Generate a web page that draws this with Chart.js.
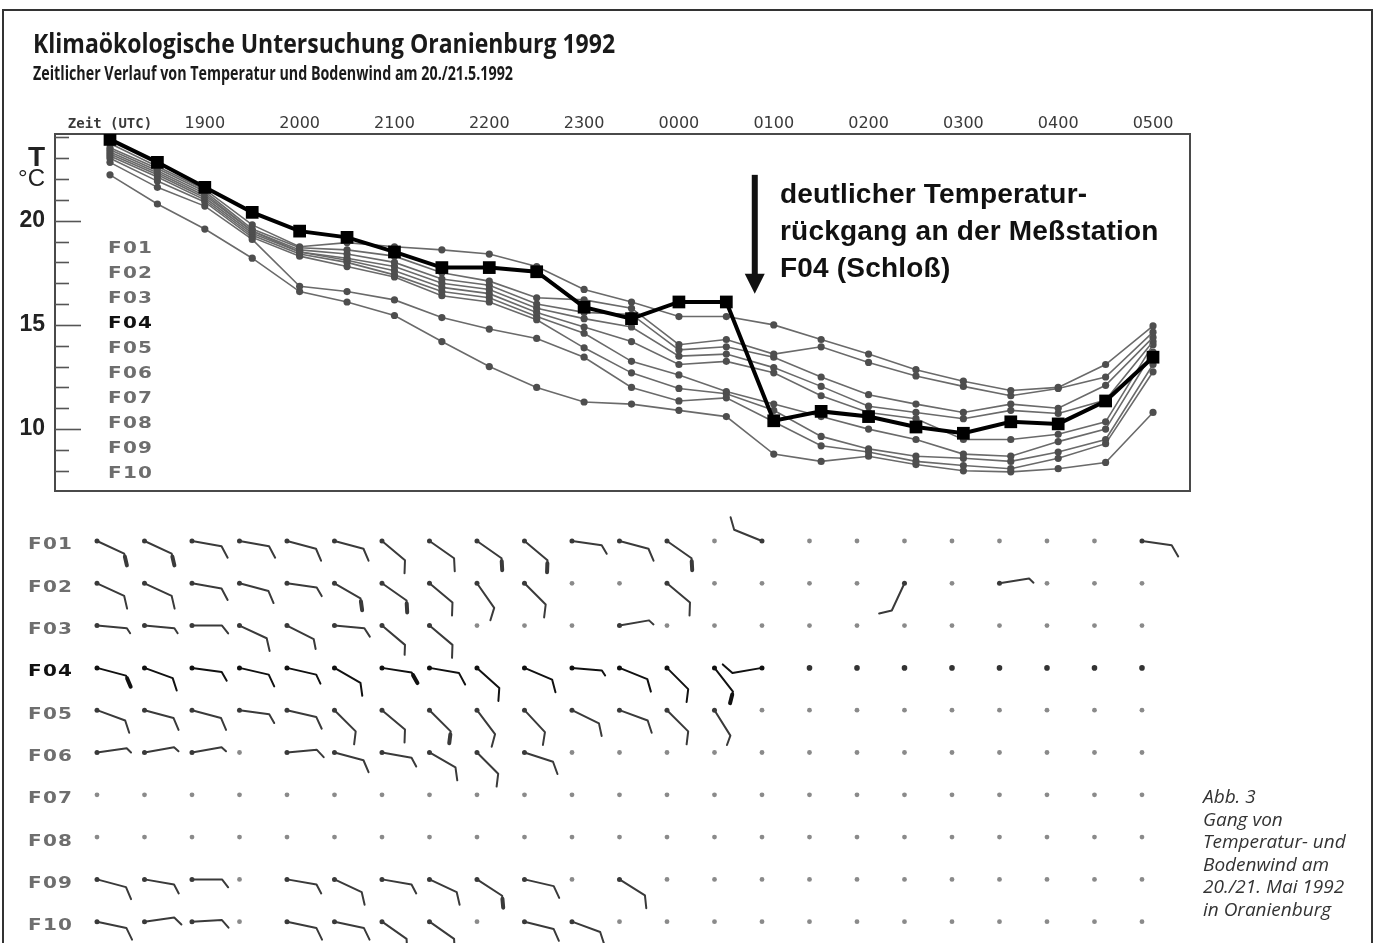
<!DOCTYPE html>
<html lang="de">
<head>
<meta charset="utf-8">
<title>Klimaökologische Untersuchung Oranienburg 1992</title>
<script src="https://cdn.jsdelivr.net/npm/chart.js@4.4.1/dist/chart.umd.min.js"></script>
<style>
  html, body { margin: 0; padding: 0; background: #fff; }
  body { width: 1380px; height: 943px; position: relative; overflow: hidden; font-family: 'Open Sans', sans-serif; color: #222; }
  #frame { position: absolute; left: 2px; top: 9px; width: 1371px; height: 1000px; border: 2px solid #333; box-sizing: border-box; }
  canvas { position: absolute; left: 0; top: 0; }
  .fit { position: absolute; white-space: nowrap; transform-origin: 0 0; color: #1a1a1a; }
  #title { left: 33px; top: 26px; font-size: 26px; font-weight: 700; line-height: 34px; }
  #subtitle { left: 33px; top: 60px; font-size: 20px; font-weight: 700; line-height: 26px; }
  #note { position: absolute; left: 780px; top: 175px; font: bold 28px/37px 'Liberation Sans', Arial, sans-serif; letter-spacing: 0.2px; color: #111; white-space: nowrap; }
  .stn { position: absolute; font: bold 16px/25px 'DejaVu Sans', sans-serif; letter-spacing: 1px; color: #6e6e6e; white-space: nowrap; transform: scaleX(1.25); transform-origin: 0 0; }
  .stn.dark { color: #111; }
  #legend { left: 108px; top: 235px; }
  #caption { position: absolute; left: 1203px; top: 785px; font: italic 19px/22.5px 'Open Sans', sans-serif; color: #333; white-space: nowrap; }
</style>
</head>
<body>
<div id="frame"></div>
<canvas id="tempChart" width="1380" height="943"></canvas>
<canvas id="windChart" width="1380" height="943"></canvas>
<div id="title" class="fit">Klimaökologische Untersuchung Oranienburg 1992</div>
<div id="subtitle" class="fit">Zeitlicher Verlauf von Temperatur und Bodenwind am 20./21.5.1992</div>
<div id="note">deutlicher Temperatur-<br>rückgang an der Meßstation<br>F04 (Schloß)</div>
<div id="legend" class="stn"></div>
<div id="windLabels"></div>
<div id="caption">Abb. 3<br>Gang von<br>Temperatur- und<br>Bodenwind am<br>20./21. Mai 1992<br>in Oranienburg</div>
<script>
// Zeitpunkte (UTC), halbstündlich
const times = ['1800','1830','1900','1930','2000','2030','2100','2130','2200','2230','2300','2330',
               '0000','0030','0100','0130','0200','0230','0300','0330','0400','0430','0500'];
const stations = ['F01','F02','F03','F04','F05','F06','F07','F08','F09','F10'];
const boldStation = 'F04';

// Temperatur in °C
const tempF01 = [23.7,22.6,21.5,19.8,18.75,18.95,18.75,18.6,18.4,17.8,16.7,16.1,15.4,15.4,15.0,14.3,13.6,12.85,12.3,11.85,12.0,13.1,14.95];
const tempF02 = [23.5,22.5,21.4,19.6,18.7,18.6,18.3,17.5,17.1,16.3,16.2,15.8,14.05,14.3,13.6,13.95,13.2,12.55,12.05,11.6,11.95,12.5,14.65];
const tempF03 = [23.4,22.4,21.3,19.5,18.6,18.4,18.0,17.2,16.9,16.0,15.6,15.5,13.8,13.95,13.45,12.5,11.65,11.2,10.8,11.2,11.0,12.1,14.4];
const tempF04 = [23.9,22.8,21.6,20.4,19.5,19.2,18.5,17.75,17.75,17.55,15.85,15.3,16.1,16.1,10.4,10.85,10.6,10.1,9.8,10.35,10.25,11.35,13.45];
const tempF05 = [23.3,22.3,21.2,19.5,18.5,18.2,17.8,17.0,16.7,15.8,15.3,14.9,13.5,13.6,12.95,12.05,11.1,10.8,10.5,10.9,10.75,11.4,14.2];
const tempF06 = [23.2,22.2,21.1,19.4,18.5,18.1,17.6,16.8,16.5,15.6,14.9,14.2,13.1,13.25,12.7,11.6,10.8,10.5,9.5,9.5,9.75,10.35,14.05];
const tempF07 = [23.1,22.1,21.0,19.3,18.4,18.0,17.4,16.6,16.3,15.4,14.6,13.25,12.6,11.8,11.2,10.6,10.0,9.5,8.8,8.7,9.4,10.0,13.7];
const tempF08 = [23.0,21.9,20.9,19.2,18.3,17.8,17.3,16.4,16.1,15.25,13.9,12.7,11.95,11.7,10.9,9.65,9.05,8.7,8.6,8.45,8.9,9.5,13.1];
const tempF09 = [22.8,21.6,20.7,19.1,16.85,16.6,16.2,15.35,14.8,14.35,13.45,12.0,11.35,11.5,10.35,9.2,8.9,8.45,8.25,8.1,8.6,9.3,12.75];
const tempF10 = [22.2,20.8,19.6,18.2,16.6,16.1,15.45,14.2,13.0,12.0,11.3,11.2,10.9,10.6,8.8,8.45,8.7,8.3,8.0,7.95,8.1,8.4,10.8];
const tempSeries = [tempF01,tempF02,tempF03,tempF04,tempF05,tempF06,tempF07,tempF08,tempF09,tempF10];

// y-Achse: Beschriftungen
const yTickVals = [23, 22, 20, 15, 10];
const yTickText = ['T', '°C', '20', '15', '10'];

// Pfeil-Markierung (Zeitindex, von/bis °C)
const arrowAt = [13.6, 22.2, 16.5];

// Bodenwind: Richtung (Grad, woher) und Stärke (0 = Windstille)
const dirF01 = [115,115,100,100,105,105,130,125,125,130,98,105,125,0,292,0,0,0,0,0,0,0,98];
const spdF01 = [4,4,3,3,3,3,3,3,4,4,2,3,4,0,3,0,0,0,0,0,0,0,3];
const dirF02 = [115,115,100,105,98,120,125,130,145,135,0,0,130,0,0,0,0,205,0,81,0,0,0];
const spdF02 = [3,3,3,3,2,4,4,3,3,3,0,0,3,0,0,0,0,3,0,1,0,0,0];
const dirF03 = [95,95,90,115,117,95,130,130,0,0,0,80,0,0,0,0,0,0,0,0,0,0,0];
const spdF03 = [1,1,2,3,2,2,2,3,0,0,0,1,0,0,0,0,0,0,0,0,0,0,0];
const dirF04 = [105,110,98,103,103,120,99,100,132,113,95,112,135,142,260,0,0,0,0,0,0,0,0];
const spdF04 = [4,3,2,3,2,3,4,3,3,3,1,3,3,4,3,0,0,0,0,0,0,0,0];
const dirF05 = [110,105,105,98,103,135,130,135,143,137,116,110,135,148,0,0,0,0,0,0,0,0,0];
const spdF05 = [3,3,3,2,3,3,3,4,3,3,3,3,3,2,0,0,0,0,0,0,0,0,0];
const dirF06 = [82,80,80,0,85,105,100,120,135,108,0,0,0,0,0,0,0,0,0,0,0,0,0];
const spdF06 = [1,1,1,0,2,3,2,3,3,3,0,0,0,0,0,0,0,0,0,0,0,0,0];
const dirF07 = [0,0,0,0,0,0,0,0,0,0,0,0,0,0,0,0,0,0,0,0,0,0,0];
const spdF07 = [0,0,0,0,0,0,0,0,0,0,0,0,0,0,0,0,0,0,0,0,0,0,0];
const dirF08 = [0,0,0,0,0,0,0,0,0,0,0,0,0,0,0,0,0,0,0,0,0,0,0];
const spdF08 = [0,0,0,0,0,0,0,0,0,0,0,0,0,0,0,0,0,0,0,0,0,0,0];
const dirF09 = [105,100,90,0,100,115,100,115,123,103,0,122,0,0,0,0,0,0,0,0,0,0,0];
const spdF09 = [3,2,2,0,2,3,2,3,4,3,0,3,0,0,0,0,0,0,0,0,0,0,0];
const dirF10 = [102,82,87,0,102,102,125,125,0,104,110,0,0,0,0,0,0,0,0,0,0,0,0];
const spdF10 = [3,2,2,0,3,3,3,3,0,3,3,0,0,0,0,0,0,0,0,0,0,0,0];
const windDir = [dirF01,dirF02,dirF03,dirF04,dirF05,dirF06,dirF07,dirF08,dirF09,dirF10];
const windSpd = [spdF01,spdF02,spdF03,spdF04,spdF05,spdF06,spdF07,spdF08,spdF09,spdF10];

const hourIdx = times.map((t, i) => i).filter(i => i % 2 === 0);

// Rahmen, Skalenstriche innen, Pfeil
const tempDeco = {
  id: 'tempDeco',
  beforeDatasetsDraw(chart) {
    const { ctx, chartArea: a, scales: { x, y } } = chart;
    ctx.save();
    ctx.strokeStyle = '#4a4a4a';
    ctx.lineWidth = 2;
    ctx.strokeRect(a.left, a.top, a.right - a.left, a.bottom - a.top);
    ctx.lineWidth = 1.6;
    ctx.strokeStyle = '#555';
    for (let v = Math.ceil(y.min); v <= Math.floor(y.max); v++) {
      const py = Math.round(y.getPixelForValue(v)) + 0.5;
      ctx.beginPath();
      ctx.moveTo(a.left, py);
      ctx.lineTo(a.left + (v % 5 === 0 ? 26 : 14), py);
      ctx.stroke();
    }
    const px = x.getPixelForValue(arrowAt[0]);
    const top = y.getPixelForValue(arrowAt[1]);
    const tip = y.getPixelForValue(arrowAt[2]);
    ctx.fillStyle = '#111';
    ctx.fillRect(px - 3, top, 6, tip - top - 18);
    ctx.beginPath();
    ctx.moveTo(px - 10, tip - 20);
    ctx.lineTo(px + 10, tip - 20);
    ctx.lineTo(px, tip);
    ctx.closePath();
    ctx.fill();
    ctx.restore();
  }
};

new Chart(document.getElementById('tempChart'), {
  type: 'line',
  data: {
    datasets: stations.map((name, k) => {
      const bold = name === boldStation;
      return {
        label: name,
        data: tempSeries[k].map((v, i) => ({ x: i, y: v })),
        borderColor: bold ? '#000' : '#6a6a6a',
        borderWidth: bold ? 4 : 1.6,
        pointStyle: bold ? 'rect' : 'circle',
        pointRadius: bold ? 9 : 3.6,
        pointBackgroundColor: bold ? '#000' : '#4e4e4e',
        pointBorderWidth: 0,
        order: bold ? 0 : 1,
        tension: 0
      };
    })
  },
  options: {
    responsive: false, animation: false, events: [],
    layout: { padding: { left: 0, top: 100, right: 190, bottom: 452 } },
    plugins: { legend: { display: false }, tooltip: { enabled: false } },
    scales: {
      x: {
        type: 'linear', position: 'top', min: -1.16, max: 22.78,
        afterBuildTicks: s => { s.ticks = hourIdx.map(v => ({ value: v })); },
        afterFit: s => { s.height = 34; },
        grid: { display: false, drawTicks: false }, border: { display: false },
        ticks: {
          autoSkip: false, maxRotation: 0, padding: 1, color: '#3a3a3a',
          callback: v => v === 0 ? 'Zeit (UTC)' : times[v],
          font: c => (c.tick && c.tick.value === 0)
            ? { family: 'DejaVu Sans Mono', size: 14, weight: 'bold' }
            : { family: 'DejaVu Sans', size: 16 }
        }
      },
      y: {
        type: 'linear', min: 7.03, max: 24.16,
        afterBuildTicks: s => { s.ticks = yTickVals.map(v => ({ value: v })); },
        afterFit: s => { s.width = 55; },
        grid: { display: false, drawTicks: false }, border: { display: false },
        ticks: {
          padding: 10, color: '#222',
          callback: v => yTickText[yTickVals.indexOf(v)],
          font: c => {
            const v = c.tick ? c.tick.value : 0;
            if (v === 23) return { family: 'Liberation Sans', size: 28, weight: 'bold' };
            if (v === 22) return { family: 'Liberation Sans', size: 24 };
            return { family: 'Liberation Sans', size: 23, weight: 'bold' };
          }
        }
      }
    }
  },
  plugins: [tempDeco]
});

// Windfiedern
const barbs = {
  id: 'barbs',
  afterDatasetsDraw(chart) {
    const ctx = chart.ctx;
    ctx.save();
    ctx.lineCap = 'round';
    ctx.lineJoin = 'round';
    chart.data.datasets.forEach((ds, s) => {
      const dark = ds.label === boldStation;
      const col = dark ? '#111' : '#3a3a3a';
      chart.getDatasetMeta(s).data.forEach((pt, i) => {
        const spd = ds.spd[i];
        const x0 = pt.x, y0 = pt.y;
        if (!spd) {
          ctx.fillStyle = dark ? '#333' : '#8a8a8a';
          ctx.beginPath(); ctx.arc(x0, y0, dark ? 2.8 : 2.4, 0, Math.PI * 2); ctx.fill();
          return;
        }
        const th = (ds.dir[i] - 90) * Math.PI / 180;
        const L = 30;
        const x1 = x0 + L * Math.cos(th), y1 = y0 + L * Math.sin(th);
        const fa = th + 52 * Math.PI / 180;
        const fl = [0, 6, 10, 13, 12][spd];
        ctx.fillStyle = col;
        ctx.beginPath(); ctx.arc(x0, y0, 2.5, 0, Math.PI * 2); ctx.fill();
        ctx.strokeStyle = col;
        ctx.lineWidth = 2;
        ctx.beginPath();
        ctx.moveTo(x0, y0); ctx.lineTo(x1, y1);
        ctx.lineTo(x1 + fl * Math.cos(fa), y1 + fl * Math.sin(fa));
        ctx.stroke();
        if (spd >= 4) {
          ctx.lineWidth = 4;
          ctx.beginPath();
          ctx.moveTo(x1 + 3 * Math.cos(fa), y1 + 3 * Math.sin(fa));
          ctx.lineTo(x1 + fl * Math.cos(fa), y1 + fl * Math.sin(fa));
          ctx.stroke();
        }
      });
    });
    ctx.restore();
  }
};

const windChart = new Chart(document.getElementById('windChart'), {
  type: 'scatter',
  data: {
    datasets: stations.map((name, s) => ({
      label: name,
      data: times.map((t, i) => ({ x: i, y: s })),
      dir: windDir[s],
      spd: windSpd[s],
      pointRadius: 0
    }))
  },
  options: {
    responsive: false, animation: false, events: [],
    layout: { padding: { left: 60, top: 500, right: 190, bottom: 0 } },
    plugins: { legend: { display: false }, tooltip: { enabled: false } },
    scales: {
      x: { type: 'linear', display: false, min: -0.779, max: 23.011 },
      y: { type: 'linear', display: false, reverse: true, min: -0.969, max: 9.504 }
    }
  },
  plugins: [barbs]
});

// Stationsliste im Temperaturdiagramm
document.getElementById('legend').innerHTML = stations
  .map(n => n === boldStation ? '<span style="color:#111">' + n + '</span>' : n).join('<br>');

// Stationsnamen der Windzeilen, an der y-Skala ausgerichtet
const wl = document.getElementById('windLabels');
stations.forEach((n, s) => {
  const d = document.createElement('div');
  d.className = 'stn' + (n === boldStation ? ' dark' : '');
  d.textContent = n;
  d.style.left = '28px';
  d.style.top = (windChart.scales.y.getPixelForValue(s) + 3 - 12.5) + 'px';
  wl.appendChild(d);
});

// Titelzeilen auf Breite der Vorlage bringen
function fit(id, w) {
  const el = document.getElementById(id);
  el.style.transform = 'none';
  el.style.transform = 'scaleX(' + (w / el.scrollWidth) + ')';
}
function fitAll() { fit('title', 582); fit('subtitle', 480); }
fitAll();
if (document.fonts) document.fonts.ready.then(fitAll);
</script>
</body>
</html>
